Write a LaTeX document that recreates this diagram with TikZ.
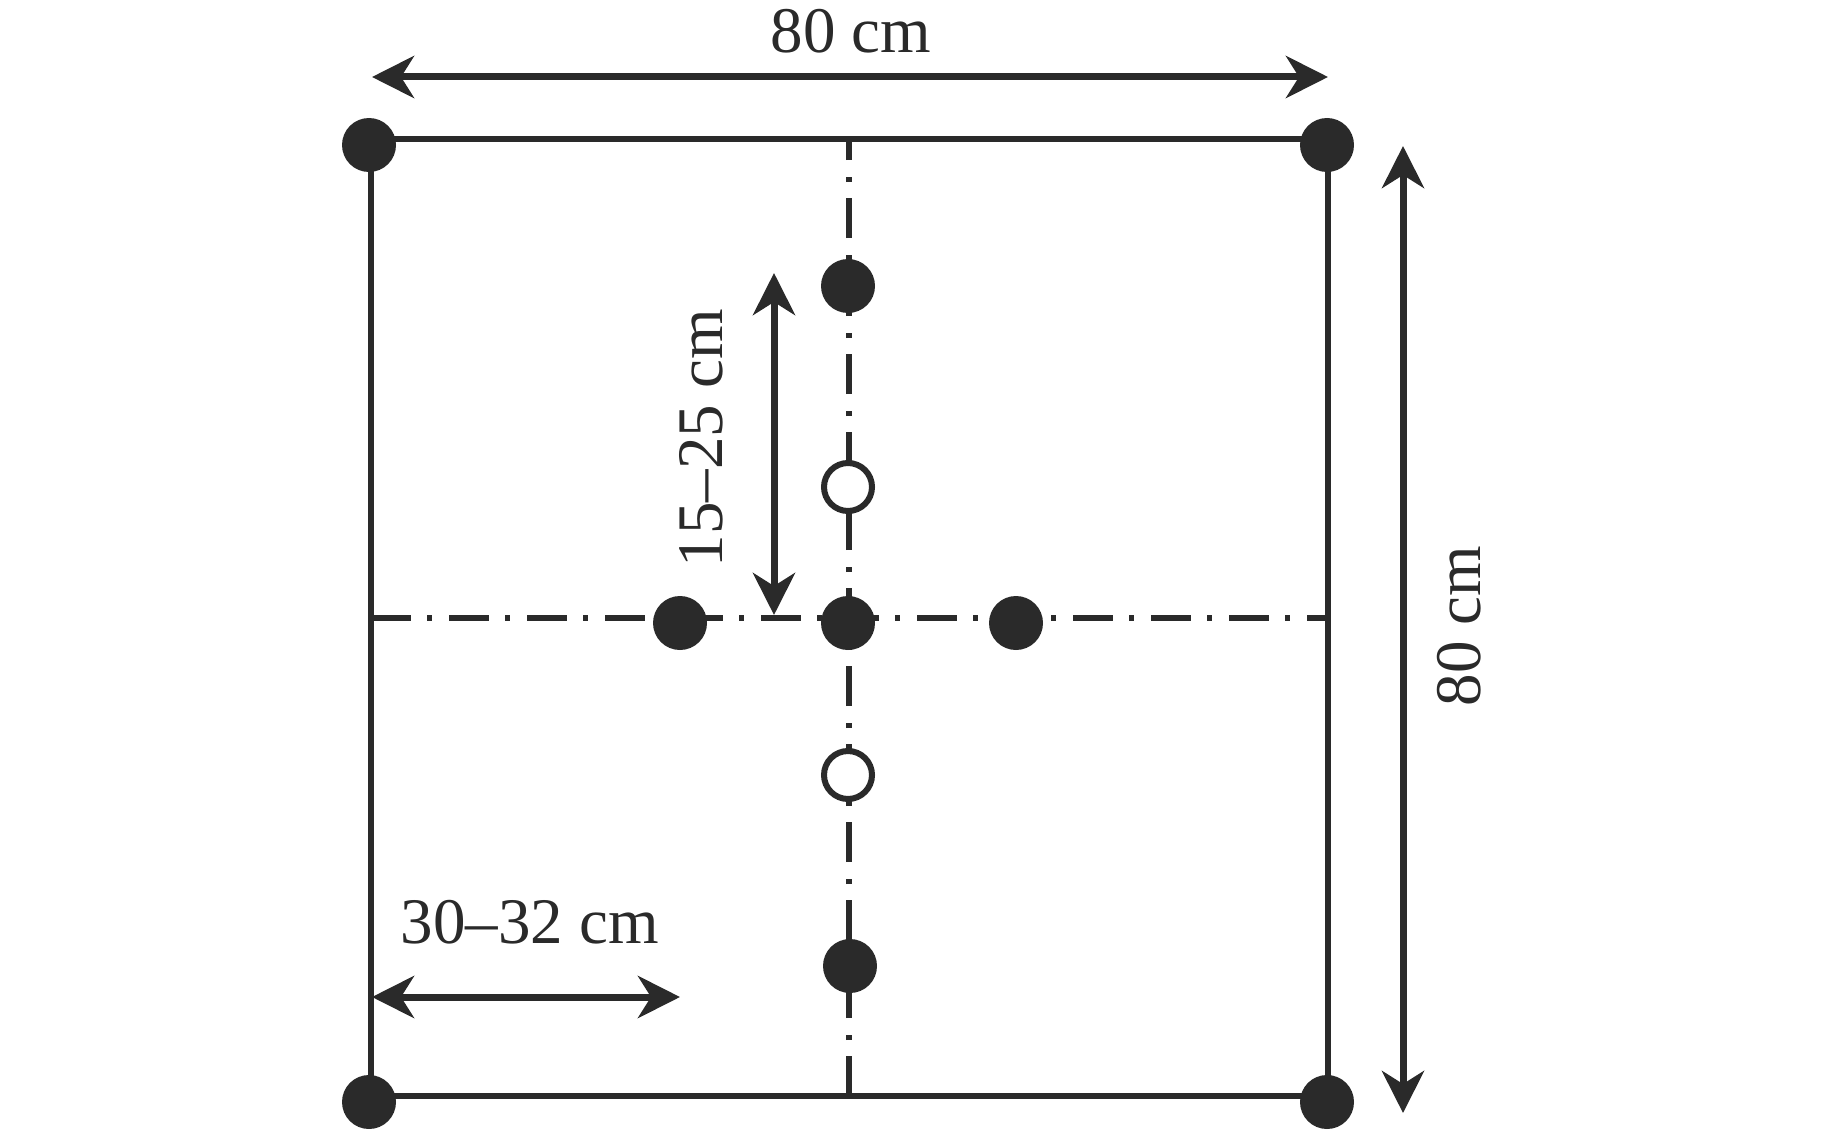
\documentclass[tikz,border=0pt]{standalone}
\usepackage{fontspec}
\setmainfont{Liberation Serif}
\usetikzlibrary{arrows.meta}
\definecolor{ink}{RGB}{42,42,42}
\begin{document}
\begin{tikzpicture}[x=1pt,y=-1pt,
  frame/.style={draw=ink,line width=6pt},
  axisline/.style={draw=ink,line width=6pt,dash pattern=on 40pt off 16pt on 5pt off 17pt},
  dimarrow/.style={draw=ink,line width=7pt,{Stealth[length=42pt,width=42pt,inset=13pt]}-{Stealth[length=42pt,width=42pt,inset=13pt]}},
  fulldot/.style={circle,fill=ink,minimum size=54pt,inner sep=0pt},
  opendot/.style={circle,draw=ink,fill=white,line width=6pt,minimum size=48pt,inner sep=0pt},
  lab/.style={text=ink,font=\fontsize{65}{78}\selectfont,inner sep=0pt}]
\useasboundingbox (0,0) rectangle (1843,1129);
% frame corners
\coordinate (tl) at (371,139);
\coordinate (tr) at (1328,139);
\coordinate (br) at (1328,1096);
\coordinate (bl) at (371,1096);
\draw[frame] (tl) -- (tr) -- (br) -- (bl) -- cycle;
% centre lines
\coordinate (hl) at (371,618);
\coordinate (hr) at (1328,618);
\coordinate (vb) at (849,1096);
\coordinate (vt) at (849,139);
\draw[axisline] (hl) -- (hr);
\draw[axisline] (vb) -- (vt);
% dots
\node[fulldot] (c1) at (369,145) {};
\node[fulldot] (c2) at (1327,145) {};
\node[fulldot] (c3) at (369,1102) {};
\node[fulldot] (c4) at (1327,1102) {};
\node[fulldot] (m) at (848,623) {};
\node[fulldot] (l) at (680,623) {};
\node[fulldot] (r) at (1016,623) {};
\node[fulldot] (v1) at (848,286) {};
\node[fulldot] (v2) at (850,966) {};
\node[opendot] (o1) at (848,487) {};
\node[opendot] (o2) at (848,775) {};
% dimension arrows
\coordinate (ta) at (372,77);
\coordinate (tb) at (1328,77);
\draw[dimarrow] (ta) -- (tb);
\coordinate (ra) at (1403,146);
\coordinate (rb) at (1403,1113);
\draw[dimarrow] (ra) -- (rb);
\coordinate (ia) at (774,273);
\coordinate (ib) at (774,615);
\draw[dimarrow] (ia) -- (ib);
\coordinate (ba) at (372,997);
\coordinate (bb) at (680,997);
\draw[dimarrow] (ba) -- (bb);
% labels
\node[lab,anchor=base] (t1) at (851,53) {80 cm};
\node[lab,anchor=base] (t2) at (530,943) {30–32 cm};
\node[lab,anchor=base,rotate=90] (t3) at (722,438) {15–25 cm};
\node[lab,anchor=base,rotate=90] (t4) at (1480,626) {80 cm};
\end{tikzpicture}
\end{document}
